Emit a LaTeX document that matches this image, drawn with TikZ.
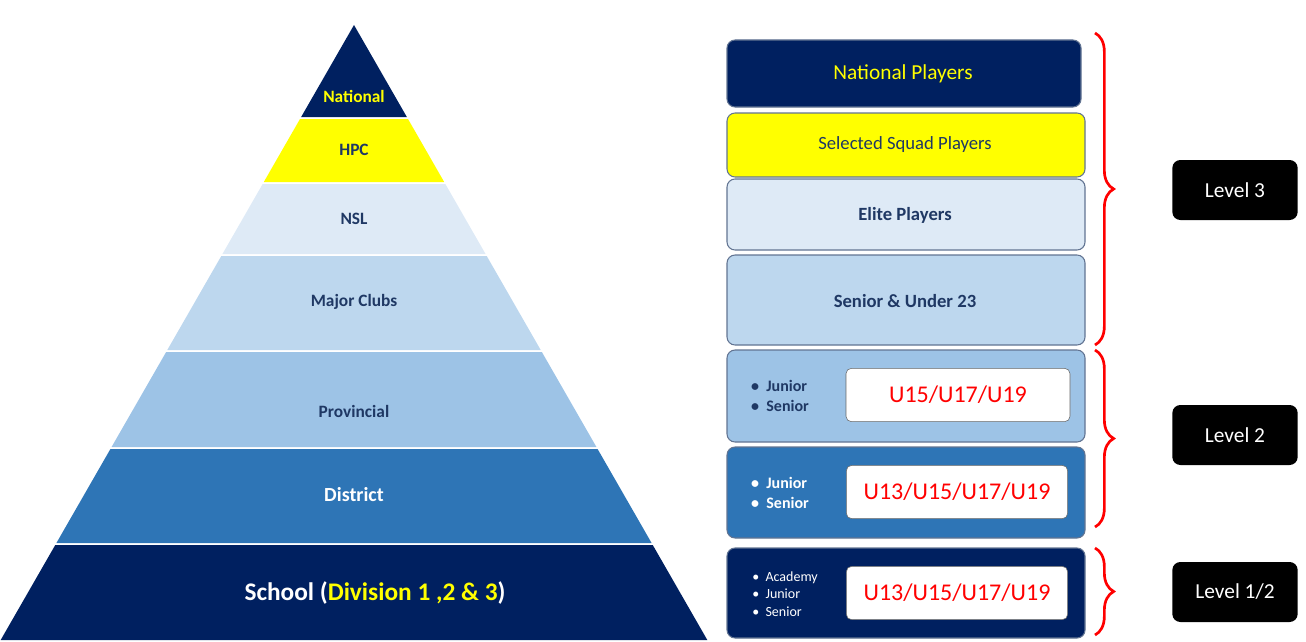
\documentclass[tikz,border=0pt]{standalone}
\usepackage{fontspec}
\setmainfont{Carlito}
\usetikzlibrary{decorations.pathreplacing}
\definecolor{navy}{HTML}{002060}
\definecolor{lvlA}{HTML}{DEEAF6}
\definecolor{lvlB}{HTML}{BDD7EE}
\definecolor{lvlC}{HTML}{9DC3E6}
\definecolor{lvlD}{HTML}{2E75B6}
\definecolor{hyel}{HTML}{FFFF00}
\definecolor{txtblue}{HTML}{1F3864}
\tikzset{
  tier/.style = {font=\bfseries\fontsize{13}{15}\selectfont, text=txtblue},
  card/.style = {draw=txtblue!70, rounded corners=6pt, line width=0.8pt},
  tag/.style = {draw=black!60, fill=white, rounded corners=4pt, text=red, font=\fontsize{18}{20}\selectfont},
  lvl/.style = {fill=black, rounded corners=6pt, text=white, font=\fontsize{16}{18}\selectfont},
  curly/.style = {draw=red, line width=2pt, decorate, decoration={brace, amplitude=14pt}}
}
\begin{document}
\begin{tikzpicture}[x=0.75pt, y=-0.75pt]
  \useasboundingbox (0, 0) rectangle (1306, 642);

  % pyramid tiers
  \foreach \ya/\yb/\col in {25/117/navy, 119/182/hyel, 184/254/lvlA, 256/350/lvlB,
                            352/447/lvlC, 449/543/lvlD, 545/640/navy} {
    \pgfmathsetmacro{\wa}{(\ya-25)*0.5745}
    \pgfmathsetmacro{\wb}{(\yb-25)*0.5745}
    \fill [\col] (354-\wa, \ya) -- (354+\wa, \ya) -- (354+\wb, \yb) -- (354-\wb, \yb) -- cycle;
  }
  \node [tier, text=hyel] (national) at (354, 96) {National};
  \node [tier] (hpc) at (354, 150) {HPC};
  \node [tier] (nsl) at (354, 219) {NSL};
  \node [tier] (major) at (354, 302) {Major Clubs};
  \node [tier] (prov) at (354, 411) {Provincial};
  \node [tier, text=white, font=\bfseries\fontsize{15}{17}\selectfont] (district) at (354, 495) {District};
  \node [tier, text=white, font=\bfseries\fontsize{19}{21}\selectfont] (school) at (375, 593)
    {School (\textcolor{hyel}{Division 1 ,2 \& 3})};

  % right hand cards
  \draw [card, fill=navy] (727, 40) rectangle (1081, 107);
  \node [text=hyel, font=\fontsize{16}{18}\selectfont] (natplay) at (903, 74) {National Players};
  \draw [card, fill=hyel] (727, 113) rectangle (1085, 177);
  \node [text=txtblue, font=\fontsize{14}{16}\selectfont] (squad) at (905, 145) {Selected Squad Players};
  \draw [card, fill=lvlA] (727, 179) rectangle (1085, 250);
  \node [tier, font=\bfseries\fontsize{14}{16}\selectfont] (elite) at (905, 215) {Elite Players};
  \draw [card, fill=lvlB] (727, 255) rectangle (1085, 345);
  \node [tier, font=\bfseries\fontsize{14}{16}\selectfont] (senior) at (905, 301) {Senior \& Under 23};

  \draw [card, fill=lvlC] (727, 350) rectangle (1085, 442);
  \node [tag, minimum width=168pt, minimum height=40pt] (tagA) at (958, 395) {U15/U17/U19};
  \node [text=txtblue, font=\bfseries\fontsize{12}{14}\selectfont, align=left] (bulA) at (780, 396)
    {\textbullet\ \ Junior\\[1pt]\textbullet\ \ Senior};

  \draw [card, fill=lvlD] (727, 447) rectangle (1085, 538);
  \node [tag, minimum width=166pt, minimum height=40pt] (tagB) at (957, 492) {U13/U15/U17/U19};
  \node [text=white, font=\bfseries\fontsize{12}{14}\selectfont, align=left] (bulB) at (780, 493)
    {\textbullet\ \ Junior\\[1pt]\textbullet\ \ Senior};

  \draw [card, fill=navy] (727, 548) rectangle (1085, 638);
  \node [tag, minimum width=166pt, minimum height=40pt] (tagC) at (957, 593) {U13/U15/U17/U19};
  \node [text=white, font=\fontsize{10.5}{13}\selectfont, align=left] (bulC) at (785, 594)
    {\textbullet\ \ Academy\\\textbullet\ \ Junior\\\textbullet\ \ Senior};

  % level markers
  \coordinate (b3a) at (1095, 33);  \coordinate (b3b) at (1095, 345);
  \coordinate (b2a) at (1095, 350); \coordinate (b2b) at (1095, 527);
  \coordinate (b1a) at (1095, 548); \coordinate (b1b) at (1095, 635);
  \draw [curly] (b3a) -- (b3b);
  \draw [curly] (b2a) -- (b2b);
  \draw [curly] (b1a) -- (b1b);
  \node [lvl, minimum width=94pt, minimum height=45pt] (lvl3) at (1235, 190) {Level 3};
  \node [lvl, minimum width=94pt, minimum height=45pt] (lvl2) at (1235, 435) {Level 2};
  \node [lvl, minimum width=94pt, minimum height=45pt] (lvl1) at (1235, 592) {Level 1/2};
\end{tikzpicture}
\end{document}
